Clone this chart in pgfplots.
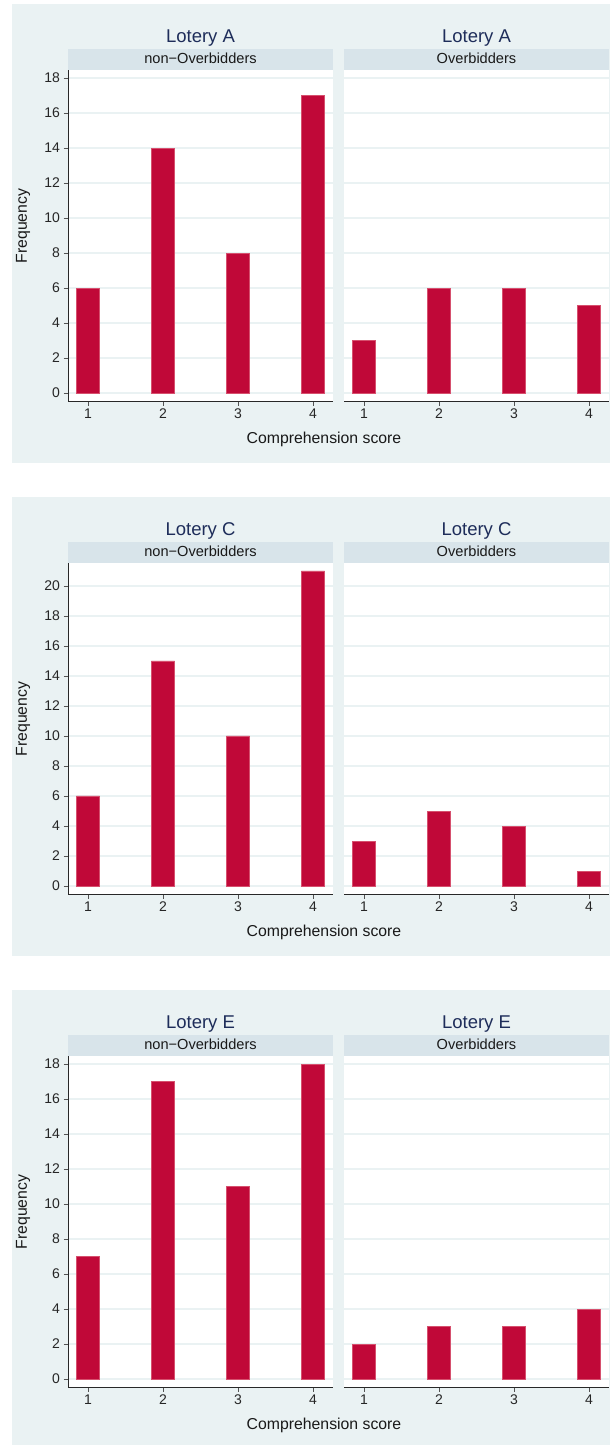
\documentclass[border=0pt]{standalone}
\usepackage{fontspec}
\setmainfont{Liberation Sans}
\usepackage{pgfplots}
\pgfplotsset{compat=1.18}
\definecolor{bgc}{RGB}{234,242,243}
\definecolor{stripc}{RGB}{216,228,234}
\definecolor{barc}{RGB}{192,8,56}
\definecolor{baredge}{RGB}{214,80,110}
\definecolor{titc}{RGB}{30,45,90}
\definecolor{gridc}{RGB}{234,242,243}
\definecolor{axc}{RGB}{40,40,40}

\pgfplotsset{
  panelstyle/.style={
    scale only axis, width=265pt, height=331pt, anchor=south west,
    xmin=0.733, xmax=4.267, xtick={1,2,3,4},
    ybar, bar width=23.3pt,
    axis background/.style={fill=white},
    axis x line=bottom, axis y line=left,
    axis line style={axc, line width=0.9pt, -},
    ymajorgrids, grid style={gridc, line width=1.1pt},
    tick style={axc!80, line width=0.8pt},
    major tick length=4.5pt, tick align=outside,
    tick label style={font=\fontsize{14}{16}\selectfont, text=black!85},
    /pgf/number format/assume math mode=true,
  },
  rightstyle/.style={
    yticklabels={}, ytick style={draw=none},
    y axis line style={draw=none},
  },
}

\newcommand{\panel}[8]{%
  % #1 offset, #2 ymin, #3 ymax, #4 top tick, #5 letter, #6 left data, #7 right data
  \fill[bgc] (12pt,{#1pt-4pt}) rectangle (610pt,{#1pt-463pt});
  \begin{axis}[panelstyle, at={(68pt,{#1pt-401pt})}, ymin=#2, ymax=#3, ytick={0,2,...,#4}]
    \addplot[fill=barc, draw=baredge, line width=0.4pt] coordinates {#6};
  \end{axis}
  \begin{axis}[panelstyle, rightstyle, at={(344pt,{#1pt-401pt})}, ymin=#2, ymax=#3, ytick={0,2,...,#4}]
    \addplot[fill=barc, draw=baredge, line width=0.4pt] coordinates {#7};
  \end{axis}
  \node[fill=stripc, minimum width=265pt, minimum height=21pt, inner sep=0pt, anchor=north west] at (68pt,{#1pt-49pt}) {};
  \node[fill=stripc, minimum width=265pt, minimum height=21pt, inner sep=0pt, anchor=north west] at (344pt,{#1pt-49pt}) {};
  \node[anchor=base, inner sep=0pt, font=\fontsize{14.6}{16}\selectfont, text=black!90] at (200.5pt,{#1pt-63.5pt}) {non−Overbidders};
  \node[anchor=base, inner sep=0pt, font=\fontsize{14.6}{16}\selectfont, text=black!90] at (476.5pt,{#1pt-63.5pt}) {Overbidders};
  \node[anchor=base, inner sep=0pt, font=\fontsize{18.5}{20}\selectfont, text=titc] at (200.5pt,{#1pt-42.7pt}) {Lotery #5};
  \node[anchor=base, inner sep=0pt, font=\fontsize{18.5}{20}\selectfont, text=titc] at (476.5pt,{#1pt-42.7pt}) {Lotery #5};
  \node[anchor=base, inner sep=0pt, font=\fontsize{15.8}{18}\selectfont, text=black!90] at (324pt,{#1pt-443pt}) {Comprehension score};
  \node[anchor=base, inner sep=0pt, rotate=90, font=\fontsize{15.8}{18}\selectfont, text=black!90] at (27pt,{#1pt-226pt}) {Frequency};
}

\begin{document}
\begin{tikzpicture}[x=1pt,y=1pt]
  \useasboundingbox (0pt,0pt) rectangle (615pt,-1445pt);
  \panel{0}{-0.457}{18.457}{18}{A}{(1,6) (2,14) (3,8) (4,17)}{(1,3) (2,6) (3,6) (4,5)}{}
  \panel{-493}{-0.533}{21.53}{20}{C}{(1,6) (2,15) (3,10) (4,21)}{(1,3) (2,5) (3,4) (4,1)}{}
  \panel{-986}{-0.457}{18.457}{18}{E}{(1,7) (2,17) (3,11) (4,18)}{(1,2) (2,3) (3,3) (4,4)}{}
\end{tikzpicture}
\end{document}
